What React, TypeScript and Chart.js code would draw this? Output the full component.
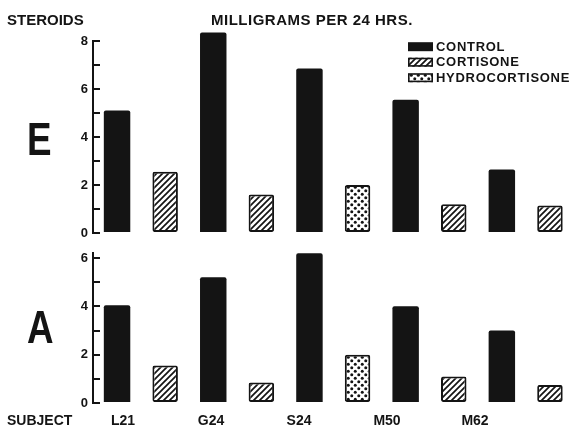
import React, { useEffect, useRef } from 'react';
import { Chart, registerables } from 'chart.js';

Chart.register(...registerables);

// ---- data ----
const subjects = ['L21', 'G24', 'S24', 'M50', 'M62'];
const treatments = ['CORTISONE', 'CORTISONE', 'HYDROCORTISONE', 'CORTISONE', 'CORTISONE'];
const legendLabels = ['CONTROL', 'CORTISONE', 'HYDROCORTISONE'];
const eControl = [5.1, 8.35, 6.85, 5.55, 2.65];
const eTreated = [2.55, 1.6, 2.0, 1.2, 1.15];
const aControl = [4.05, 5.2, 6.2, 4.0, 3.0];
const aTreated = [1.55, 0.85, 2.0, 1.1, 0.75];
const eTickLabels = [0, 2, 4, 6, 8];
const aTickLabels = [0, 2, 4, 6];
const eMax = 8;
const aMax = 6;

const INK = '#141414';
const FONT = '"Liberation Sans", Arial, sans-serif';

function makeHatch(): CanvasPattern {
  const s = 6;
  const c = document.createElement('canvas');
  c.width = s;
  c.height = s;
  const g = c.getContext('2d')!;
  g.fillStyle = '#fff';
  g.fillRect(0, 0, s, s);
  g.strokeStyle = INK;
  g.lineWidth = 1.7;
  g.beginPath();
  g.moveTo(-1, s + 1);
  g.lineTo(s + 1, -1);
  g.moveTo(-2, 2);
  g.lineTo(2, -2);
  g.moveTo(s - 2, s + 2);
  g.lineTo(s + 2, s - 2);
  g.stroke();
  return g.createPattern(c, 'repeat')!;
}

function makeDots(): CanvasPattern {
  const s = 7;
  const c = document.createElement('canvas');
  c.width = s;
  c.height = s;
  const g = c.getContext('2d')!;
  g.fillStyle = '#fff';
  g.fillRect(0, 0, s, s);
  g.fillStyle = INK;
  [[1.75, 1.75], [5.25, 5.25]].forEach(([x, y]) => {
    g.beginPath();
    g.arc(x, y, 1.5, 0, Math.PI * 2);
    g.fill();
  });
  return g.createPattern(c, 'repeat')!;
}

type PanelProps = {
  control: number[];
  treated: number[];
  max: number;
  tickLabels: number[];
  top: number;
  height: number;
  padTop: number;
  padBottom: number;
  showX: boolean;
  withLegend: boolean;
  axisOvershoot: number;
};

function Panel(p: PanelProps) {
  const ref = useRef<HTMLCanvasElement | null>(null);
  useEffect(() => {
    const canvas = ref.current!;
    const hatch = makeHatch();
    const dots = makeDots();
    const treatedFill = treatments.map((t) => (t === 'HYDROCORTISONE' ? dots : hatch));

    const extrasPlugin = {
      id: 'panelExtras',
      afterDraw(chart: any) {
        const ctx = chart.ctx as CanvasRenderingContext2D;
        ctx.save();
        if (p.axisOvershoot > 0) {
          const ys = chart.scales.y;
          const x = ys.right;
          const yTop = ys.getPixelForValue(p.max);
          ctx.strokeStyle = INK;
          ctx.lineWidth = 2;
          ctx.beginPath();
          ctx.moveTo(x, yTop);
          ctx.lineTo(x, yTop - p.axisOvershoot);
          ctx.stroke();
        }
        if (p.withLegend) {
          const fills: any[] = [INK, hatch, dots];
          legendLabels.forEach((lab, i) => {
            const cy = 46.7 + i * 15.5;
            ctx.fillStyle = fills[i];
            ctx.fillRect(408, cy - 4.5, 25, 9);
            if (i > 0) {
              ctx.strokeStyle = INK;
              ctx.lineWidth = 1.6;
              ctx.strokeRect(408.8, cy - 3.7, 23.4, 7.4);
            }
            ctx.fillStyle = INK;
            ctx.font = `bold 13px ${FONT}`;
            (ctx as any).letterSpacing = '0.7px';
            ctx.textBaseline = 'middle';
            ctx.textAlign = 'left';
            ctx.fillText(lab, 436, cy + 0.5);
          });
        }
        ctx.restore();
      },
    };

    const scales: any = {
      x: { type: 'category', display: false },
      y: {
        min: 0,
        max: p.max,
        position: 'left',
        afterFit: (s: any) => {
          s.width = 93;
          s.paddingTop = 0;
          s.paddingBottom = 0;
        },
        border: { display: true, color: INK, width: 2 },
        grid: { drawOnChartArea: false, drawTicks: true, tickLength: -7, color: INK, lineWidth: 2 },
        ticks: {
          stepSize: 1,
          autoSkip: false,
          padding: 12,
          color: INK,
          font: { family: FONT, size: 13, weight: 'bold', lineHeight: 1 },
          callback: (v: any) => (p.tickLabels.includes(v) ? String(v) : ''),
        },
      },
    };
    if (p.showX) {
      scales.xs = {
        type: 'linear',
        position: 'bottom',
        offset: false,
        min: -0.341,
        max: 5.125,
        afterFit: (s: any) => {
          s.height = 25;
          s.paddingLeft = 0;
          s.paddingRight = 0;
        },
        grid: { display: false, offset: false },
        border: { display: false },
        ticks: {
          stepSize: 1,
          includeBounds: false,
          autoSkip: false,
          maxRotation: 0,
          padding: 2,
          color: INK,
          font: { family: FONT, size: 14, weight: 'bold', lineHeight: 1.2 },
          callback: (v: any) => (Number.isInteger(v) && subjects[v] !== undefined ? subjects[v] : ''),
        },
      };
    }

    const chart = new Chart(canvas, {
      type: 'bar',
      data: {
        labels: subjects,
        datasets: [
          {
            label: legendLabels[0],
            data: p.control,
            xAxisID: 'x',
            yAxisID: 'y',
            backgroundColor: INK,
            borderWidth: 0,
            borderRadius: 2,
            barPercentage: 0.55,
            categoryPercentage: 1,
            clip: false,
          },
          {
            label: 'TREATED',
            data: p.treated,
            xAxisID: 'x',
            yAxisID: 'y',
            backgroundColor: treatedFill,
            borderColor: INK,
            borderWidth: 2,
            borderSkipped: false,
            borderRadius: 2,
            barPercentage: 0.53,
            categoryPercentage: 1,
            clip: false,
          },
        ],
      } as any,
      options: {
        responsive: false,
        animation: false,
        devicePixelRatio: 1,
        layout: { padding: { top: p.padTop, bottom: p.padBottom, left: 0, right: 3 } },
        plugins: { legend: { display: false }, tooltip: { enabled: false }, title: { display: false } },
        scales,
      } as any,
      plugins: [extrasPlugin],
    });
    return () => chart.destroy();
  }, []);
  return (
    <canvas
      ref={ref}
      width={577}
      height={p.height}
      style={{ position: 'absolute', left: 0, top: p.top, width: 577, height: p.height }}
    />
  );
}

const txt = (s: React.CSSProperties): React.CSSProperties => ({
  position: 'absolute',
  fontFamily: FONT,
  fontWeight: 'bold',
  color: INK,
  lineHeight: 1,
  whiteSpace: 'nowrap',
  ...s,
});

export default function App() {
  return (
    <div style={{ position: 'absolute', left: 0, top: 0, width: 577, height: 428, background: '#fff', overflow: 'hidden' }}>
      <Panel control={eControl} treated={eTreated} max={eMax} tickLabels={eTickLabels} top={0} height={240} padTop={41} padBottom={7} showX={false} withLegend={true} axisOvershoot={0} />
      <Panel control={aControl} treated={aTreated} max={aMax} tickLabels={aTickLabels} top={240} height={188} padTop={18} padBottom={0} showX={true} withLegend={false} axisOvershoot={6} />
      <div style={txt({ left: 7, top: 11.5, fontSize: 15 })}>STEROIDS</div>
      <div style={txt({ left: 211, top: 11.5, fontSize: 15, letterSpacing: '0.5px' })}>MILLIGRAMS PER 24 HRS.</div>
      <div style={txt({ left: 7, top: 413, fontSize: 14 })}>SUBJECT</div>
      <div style={txt({ left: 27, top: 115.7, fontSize: 46, transform: 'scaleX(0.8)', transformOrigin: 'left top' })}>E</div>
      <div style={txt({ left: 27, top: 304, fontSize: 46, transform: 'scaleX(0.8)', transformOrigin: 'left top' })}>A</div>
    </div>
  );
}
